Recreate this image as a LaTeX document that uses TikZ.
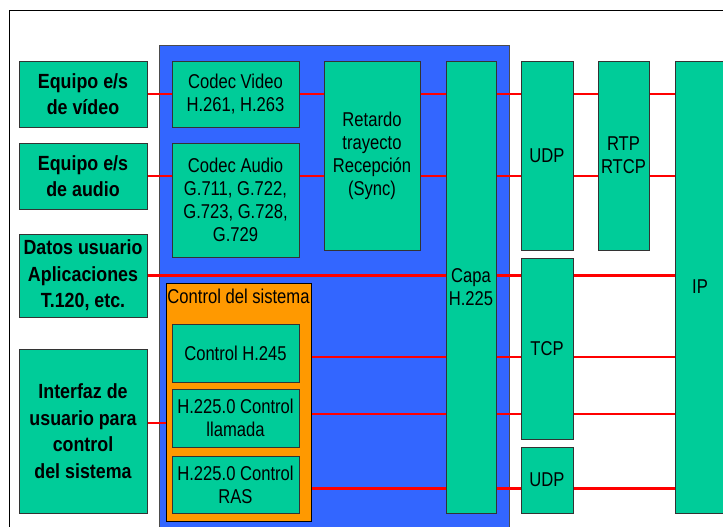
\documentclass[tikz,border=0pt]{standalone}
\usepackage{fontspec}
\setmainfont{Liberation Sans}[FakeStretch=0.83, BoldFeatures={FakeStretch=0.87}]
\usepackage{tikz}
\usetikzlibrary{
	backgrounds,
	positioning
}
\definecolor{BoxGreen}{RGB}{0,204,153}
\definecolor{PanelBlue}{RGB}{51,102,255}
\definecolor{CtrlOrange}{RGB}{255,153,0}
\definecolor{LinkRed}{RGB}{255,0,0}

\begin{document}
\begin{tikzpicture}[x=1pt, y=-1pt,
		box/.style={draw=black!80, line width=0.9pt, fill=BoxGreen, align=center, inner sep=0pt,
			font=\fontsize{20}{23}\selectfont},
		bbox/.style={box, font=\fontsize{20.5}{26.5}\selectfont\bfseries},
		link/.style={draw=LinkRed, line width=2.6pt}]
			\clip (0,0) rectangle (723,527);
			% equipos del usuario
			\node[bbox, minimum width=128, minimum height=66] (vid) at (83,94) {Equipo e/s\\de vídeo};
			\node[bbox, minimum width=128, minimum height=66] (aud) at (83,176) {Equipo e/s\\de audio};
			\node[bbox, minimum width=128, minimum height=83] (dat) at (83,275.5) {Datos usuario\\Aplicaciones\\T.120, etc.};
			\node[bbox, minimum width=128, minimum height=164] (ifc) at (83,431) {Interfaz de\\usuario para\\control\\del sistema};
			% terminal H.323
			\node[box, minimum width=127, minimum height=66] (cvid) at (235.5,94) {Codec Video\\H.261, H.263};
			\node[box, minimum width=127, minimum height=114] (caud) at (235.5,200) {Codec Audio\\G.711, G.722,\\G.723, G.728,\\G.729};
			\node[box, minimum width=96, minimum height=189] (ret) at (372,155.5) {Retardo\\trayecto\\Recepción\\(Sync)};
			\node[box, minimum width=50, minimum height=452] (capa) at (471,287) {Capa\\H.225};
			\node[draw=black, line width=0.9pt, fill=CtrlOrange, minimum width=145, minimum height=238] (ctrl) at (238.5,402) {};
			\node[inner sep=0pt, font=\fontsize{20}{23}\selectfont] (ctrlt) at ([yshift=-14]ctrl.north) {Control del sistema};
			\node[box, minimum width=127, minimum height=58] (h245) at (235.5,353) {Control H.245};
			\node[box, minimum width=127, minimum height=58] (llam) at (235.5,418) {H.225.0 Control\\llamada};
			\node[box, minimum width=127, minimum height=57] (ras) at (235.5,484.5) {H.225.0 Control\\RAS};
			% transporte
			\node[box, minimum width=52, minimum height=189] (udpa) at (547,155.5) {UDP};
			\node[box, minimum width=52, minimum height=181] (tcp) at (547,348.5) {TCP};
			\node[box, minimum width=52, minimum height=66] (udpb) at (547,480) {UDP};
			\node[box, minimum width=51, minimum height=189] (rtp) at (623.5,155.5) {RTP\\RTCP};
			\node[box, minimum width=50, minimum height=452] (ip) at (700,287) {IP};
			\begin{scope}[on background layer]
				\draw[black, line width=1pt] (9,11) rectangle (760,560);
				\draw[fill=PanelBlue, draw=black!70, line width=0.8pt] (159,45) rectangle (509,560);
				\draw[link] (vid.east) -- (vid.east -| ip.west);
				\draw[link] (aud.east) -- (aud.east -| ip.west);
				\draw[link] (dat.east) -- (dat.east -| ip.west);
				\draw[link] ([yshift=8]ifc.east) -- ([yshift=8]ifc.east -| ctrl.west);
				\draw[link] ([yshift=-4]h245.east) -- ([yshift=-4]h245.east -| ip.west);
				\draw[link] ([yshift=4]llam.east) -- ([yshift=4]llam.east -| ip.west);
				\draw[link] ([yshift=-4]ras.east) -- ([yshift=-4]ras.east -| ip.west);
			\end{scope}
		\end{tikzpicture}
\end{document}
